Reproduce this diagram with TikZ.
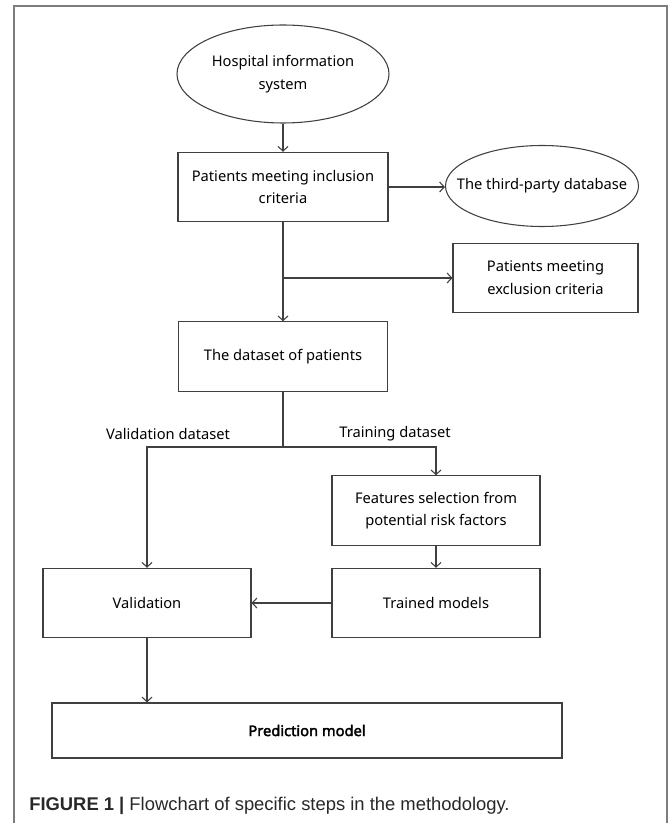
\documentclass[tikz,border=0pt]{standalone}
\usepackage{fontspec}
\setmainfont{Noto Sans}[AutoFakeBold=2.5]
\newfontfamily\capfont{Liberation Sans}
\usetikzlibrary{arrows.meta,positioning,shapes.geometric}
\definecolor{linegray}{RGB}{64,64,64}
\definecolor{framegray}{RGB}{125,125,125}
\definecolor{capgray}{RGB}{40,40,40}
\tikzset{
  box/.style={draw=linegray,line width=0.8pt,align=center,font=\fontsize{11}{17}\selectfont,minimum width=156pt,minimum height=52pt,inner sep=0pt},
  ell/.style={box,ellipse},
  arr/.style={-{Straight Barb[length=3.5pt,width=7.5pt]},draw=linegray,line width=0.8pt},
  lbl/.style={font=\fontsize{11}{17}\selectfont,inner sep=0pt},
}

\begin{document}
\begin{tikzpicture}[x=0.75pt,y=-0.75pt]
  \useasboundingbox (0,0) rectangle (669,823);
  \draw[framegray,line width=1pt] (14,823) -- (14,6) -- (667,6) -- (667,823);
  % nodes
  \node[ell,minimum width=159pt,minimum height=73.5pt] (his) at (283,74) {Hospital information\\system};
  \node[box,minimum width=157.5pt] (incl) at (283,187) {Patients meeting inclusion\\criteria};
  \node[ell,minimum width=144.75pt,minimum height=60.75pt,inner xsep=-16pt] (third) at (542,186) {The third-party database};
  \node[box,minimum width=138.75pt] (excl) at (545.5,278) {Patients meeting\\exclusion criteria};
  \node[box,minimum width=156.75pt] (data) at (283,356.5) {The dataset of patients};
  \node[box] (feat) at (436,510.5) {Features selection from\\potential risk factors};
  \node[box] (trained) at (436,603) {Trained models};
  \node[box] (valid) at (147,603) {Validation};
  \node[box,minimum width=382.5pt,minimum height=41.25pt,font=\fontsize{11}{17}\selectfont\bfseries] (pred) at (307,730.5) {Prediction model};
  \coordinate (branch) at (incl.south |- excl.west);
  \coordinate (split) at (283,447);
  % connectors
  \draw[arr] (his) -- (incl);
  \draw[arr] (incl.east) -- (incl.east -| third.west);
  \draw[arr] (incl) -- (data);
  \draw[arr] (branch) -- (excl);
  \draw[linegray,line width=0.8pt] (data) -- (split);
  \draw[arr] (split) -| (valid);
  \draw[arr] (split) -| (feat);
  \draw[arr] (feat) -- (trained);
  \draw[arr] (trained) -- (valid);
  \draw[arr] (valid) -- (valid.south |- pred.north);
  \node[lbl] (vlbl) at (168,434) {Validation dataset};
  \node[lbl] (tlbl) at (395,434) {Training dataset};
  % caption
  \node[anchor=base west,inner sep=0pt,font=\capfont\fontsize{13.8}{16}\selectfont,text=capgray] (cap) at (29,810) {\textbf{FIGURE 1 |} Flowchart of specific steps in the methodology.};
\end{tikzpicture}
\end{document}
